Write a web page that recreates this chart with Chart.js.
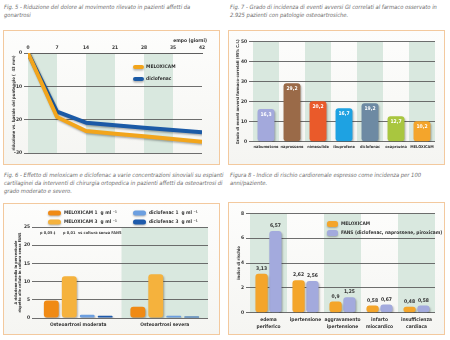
<!DOCTYPE html>
<html><head><meta charset="utf-8">
<script src="https://cdn.jsdelivr.net/npm/chart.js@4.4.0/dist/chart.umd.min.js"></script>
<style>
html,body{margin:0;padding:0;background:#fff;width:450px;height:340px;overflow:hidden;}
.cap{position:absolute;font-family:"Liberation Sans Narrow","DejaVu Sans Condensed",sans-serif;font-style:italic;font-size:5.8px;line-height:8px;color:#6e6e6e;white-space:nowrap;}
.frame{position:absolute;border:1px solid #f3c99e;background:linear-gradient(#fdfdfc,#f5f5f2);box-sizing:border-box;}
canvas{position:absolute;}
</style></head><body>
<div class="cap" style="left:4px;top:3px;">Fig. 5 - Riduzione del dolore al movimento rilevato in pazienti affetti da<br>gonartrosi</div>
<div class="cap" style="left:230px;top:3px;">Fig. 7 - Grado di incidenza di eventi avversi GI correlati al farmaco osservato in<br>2.925 pazienti con patologie osteoartrosiche.</div>
<div class="cap" style="left:4px;top:171px;">Fig. 6 - Effetto di meloxicam e diclofenac a varie concentrazioni sinoviali su espianti<br>cartilaginei da interventi di chirurgia ortopedica in pazienti affetti da osteoartrosi di<br>grado moderato e severo.</div>
<div class="cap" style="left:230px;top:171px;">Figura 8 - Indice di rischio cardiorenale espresso come incidenza per 100<br>anni/paziente.</div>

<div class="frame" style="left:3px;top:30px;width:217px;height:135px;"></div>
<div class="frame" style="left:228px;top:30px;width:217px;height:135px;"></div>
<div class="frame" style="left:3px;top:203px;width:217px;height:132px;"></div>
<div class="frame" style="left:228px;top:202px;width:217px;height:133px;"></div>

<canvas id="c1" width="217" height="135" style="left:3px;top:30px;"></canvas>
<canvas id="c2" width="217" height="135" style="left:228px;top:30px;"></canvas>
<canvas id="c3" width="217" height="132" style="left:3px;top:203px;"></canvas>
<canvas id="c4" width="217" height="133" style="left:228px;top:202px;"></canvas>

<script>
// ---------- Fig. 5 data ----------
const days = [0, 7, 14, 21, 28, 35, 42];
const meloxicamPain = [0, -19.2, -23.4, -24.2, -25.0, -25.8, -26.6];
const diclofenacPain = [0, -17.6, -20.9, -21.7, -22.4, -23.1, -23.8];
const painSeries = ['MELOXICAM', 'diclofenac'];
const painTicks = [0, -10, -20, -30];

// ---------- Fig. 7 data ----------
const drugs = ['nabumetone', 'naprossene', 'nimesulide', 'ibuprofene', 'diclofenac', 'oxaprozina', 'MELOXICAM'];
const giEvents = [16.3, 29.2, 20.2, 16.7, 19.2, 12.7, 10.2];

// ---------- Fig. 6 data ----------
const grades = ['Osteoartrosi moderata', 'Osteoartrosi severa'];
const cartSeries = ['MELOXICAM 1  g ml \u207B\u00B9', 'MELOXICAM 3  g ml \u207B\u00B9', 'diclofenac 1  g ml \u207B\u00B9', 'diclofenac 3  g ml \u207B\u00B9'];
const meloxicam1 = [4.8, 3.1];
const meloxicam3 = [11.5, 12.0];
const diclofenac1 = [0.9, 0.6];
const diclofenac3 = [0.6, 0.4];
const cartNotes = ['p 0,05 \u2021', 'p 0,01', 'vs coltura senza FANS'];

// ---------- Fig. 8 data ----------
const events = [['edema', 'periferico'], 'ipertensione', ['aggravamento', 'ipertensione'], ['infarto', 'miocardico'], ['insufficienza', 'cardiaca']];
const riskSeries = ['MELOXICAM', 'FANS (diclofenac, naprossene, piroxicam)'];
const meloxicamRisk = [3.13, 2.62, 0.9, 0.58, 0.48];
const fansRisk = [6.57, 2.56, 1.25, 0.67, 0.58];

// ---------- styles ----------
const FONT = "'Liberation Sans Narrow','DejaVu Sans Condensed',sans-serif";
const BAND = '#d9e8df';
const GRID = '#5e5e5e';
const drugColors = ['#a3a9dc', '#9a6a48', '#ea5a2a', '#1ea2e2', '#6d8aa3', '#a9c63f', '#f4a52b'];
const cartColors = ['#f08a14', '#f5b23d', '#6c9fe0', '#1e5aab'];
const riskColors = ['#f4a52a', '#a3aadd'];

Chart.defaults.font.family = FONT;
Chart.defaults.font.weight = 'bold';
Chart.defaults.font.size = 4.9;
Chart.defaults.color = '#333';
Chart.defaults.animation = false;
Chart.defaults.plugins.legend.display = false;
Chart.defaults.plugins.tooltip.enabled = false;

const fmt = v => String(v).replace('.', ',');
const noRot = { maxRotation: 0, minRotation: 0, autoSkip: false };

const shadowPlugin = {
  id: 'shadowP',
  beforeDatasetsDraw(c) { const x = c.ctx; x.save(); x.shadowColor = 'rgba(0,0,0,0.3)'; x.shadowBlur = 2; x.shadowOffsetX = 1; x.shadowOffsetY = 1.5; },
  afterDatasetsDraw(c) { c.ctx.restore(); }
};

function catBands(indices, yMin, yMax) {
  return { id: 'bands', beforeDraw(c) {
    const xs = c.scales.x, ys = c.scales.y, ctx = c.ctx;
    const w = (c.chartArea.right - c.chartArea.left) / xs.getLabels().length;
    ctx.save(); ctx.fillStyle = BAND;
    const t = ys.getPixelForValue(yMax), b = ys.getPixelForValue(yMin);
    indices.forEach(i => { const cx = xs.getPixelForValue(i); ctx.fillRect(cx - w / 2, t, w, b - t); });
    ctx.restore();
  }};
}

function roundRect(ctx, x, y, w, h, r) {
  ctx.beginPath(); ctx.moveTo(x + r, y); ctx.lineTo(x + w - r, y); ctx.arcTo(x + w, y, x + w, y + r, r);
  ctx.lineTo(x + w, y + h - r); ctx.arcTo(x + w, y + h, x + w - r, y + h, r); ctx.lineTo(x + r, y + h);
  ctx.arcTo(x, y + h, x, y + h - r, r); ctx.lineTo(x, y + r); ctx.arcTo(x, y, x + r, y, r); ctx.closePath();
}

// ================= Fig. 5 =================
new Chart(document.getElementById('c1'), {
  type: 'line',
  data: { datasets: [
    { label: painSeries[0], data: days.map((d, i) => ({ x: d, y: meloxicamPain[i] })), borderColor: '#f2a51c', borderWidth: 4, pointRadius: 0, tension: 0, borderJoinStyle: 'round' },
    { label: painSeries[1], data: days.map((d, i) => ({ x: d, y: diclofenacPain[i] })), borderColor: '#1b5aa6', borderWidth: 4, pointRadius: 0, tension: 0, borderJoinStyle: 'round' }
  ]},
  options: {
    responsive: false, devicePixelRatio: 1,
    layout: { padding: { left: 0, top: 0, right: 18, bottom: 12 } },
    scales: {
      x: { type: 'linear', position: 'top', min: 0, max: 42, afterFit(s) { s.height = 23; },
        ticks: { stepSize: 7, padding: 2, ...noRot }, grid: { display: false, drawTicks: false },
        border: { display: true, color: GRID, width: 1 } },
      y: { min: -30, max: 0, afterFit(s) { s.width = 25; },
        afterBuildTicks(s) { s.ticks = painTicks.map(v => ({ value: v })); },
        ticks: { padding: 2 }, grid: { color: GRID, lineWidth: 0.9, tickLength: 4 }, border: { display: false },
        title: { display: true, text: 'riduzione vs. basale del punteggio (  43 mm)', font: { size: 4.2, lineHeight: 1.2 }, padding: { top: 8, bottom: 0 } } }
    }
  },
  plugins: [
    { id: 'bands5', beforeDraw(c) {
      const xs = c.scales.x, ys = c.scales.y, ctx = c.ctx; ctx.save(); ctx.fillStyle = BAND;
      const t = ys.getPixelForValue(0), b = ys.getPixelForValue(-30);
      [[0, 7], [14, 21], [28, 35]].forEach(([a, e]) => { const l = xs.getPixelForValue(a), r = xs.getPixelForValue(e); ctx.fillRect(l, t, r - l, b - t); });
      ctx.restore();
    }},
    shadowPlugin,
    { id: 'leg5', afterDraw(c) {
      const ctx = c.ctx; ctx.save();
      c.data.datasets.forEach((ds, i) => {
        const y = 37 + i * 12;
        ctx.save(); ctx.shadowColor = 'rgba(0,0,0,0.3)'; ctx.shadowBlur = 2; ctx.shadowOffsetY = 1.5;
        ctx.strokeStyle = ds.borderColor; ctx.lineWidth = 4; ctx.lineCap = 'round';
        ctx.beginPath(); ctx.moveTo(132, y); ctx.lineTo(139, y); ctx.stroke(); ctx.restore();
        ctx.fillStyle = '#333'; ctx.font = 'bold 4.9px ' + FONT; ctx.textBaseline = 'middle'; ctx.textAlign = 'left';
        ctx.fillText(ds.label, 143, y);
      });
      ctx.textAlign = 'right'; ctx.fillText('empo (giorni)', 204, 11);
      ctx.restore();
    }}
  ]
});

// ================= Fig. 7 =================
new Chart(document.getElementById('c2'), {
  type: 'bar',
  data: { labels: drugs, datasets: [{ data: giEvents, backgroundColor: drugColors, barPercentage: 0.65, categoryPercentage: 1, borderRadius: 3, borderSkipped: false }] },
  options: {
    responsive: false, devicePixelRatio: 1,
    layout: { padding: { left: 0, top: 11.7, right: 10, bottom: 9.3 } },
    scales: {
      x: { afterFit(s) { s.height = 14; }, ticks: { padding: 3, font: { size: 3.9 }, ...noRot }, grid: { display: false, drawTicks: false }, border: { display: false } },
      y: { min: 0, max: 50, afterFit(s) { s.width = 25; }, ticks: { stepSize: 10, padding: 2 },
        grid: { color: GRID, lineWidth: 0.9, tickLength: 4 }, border: { display: false },
        title: { display: true, text: 'Grado di eventi avversi farmaco-correlati (95% C.I.)', font: { size: 4.0, lineHeight: 1.2 }, padding: { top: 8, bottom: 0 } } }
    }
  },
  plugins: [catBands([0, 2, 4, 6], 0, 50), shadowPlugin,
    { id: 'vals7', afterDatasetsDraw(c) {
      const ctx = c.ctx; ctx.save(); ctx.fillStyle = '#fff'; ctx.font = 'bold 5px ' + FONT; ctx.textAlign = 'center'; ctx.textBaseline = 'middle';
      c.getDatasetMeta(0).data.forEach((b, i) => ctx.fillText(fmt(giEvents[i]), b.x, b.y + 5.5));
      ctx.restore();
    }}
  ]
});

// ================= Fig. 6 =================
const cartData = [meloxicam1, meloxicam3, diclofenac1, diclofenac3];
new Chart(document.getElementById('c3'), {
  type: 'bar',
  data: { labels: grades, datasets: cartData.map((d, i) => ({ label: cartSeries[i], data: d, backgroundColor: cartColors[i], barPercentage: 0.83, categoryPercentage: 0.83, borderRadius: 3, borderSkipped: false })) },
  options: {
    responsive: false, devicePixelRatio: 1,
    layout: { padding: { left: 0, top: 24, right: 12, bottom: 3 } },
    scales: {
      x: { afterFit(s) { s.height = 14; }, ticks: { padding: 4, ...noRot }, grid: { display: false, drawTicks: false }, border: { display: false } },
      y: { min: 0, max: 25, afterFit(s) { s.width = 32; }, ticks: { stepSize: 5, padding: 2 },
        grid: { color: GRID, lineWidth: 0.9, tickLength: 3 }, border: { display: false },
        title: { display: true, text: ['\u0394 riduzione media in percentuale', 'rispetto alle cellule in coltura senza FANS'], font: { size: 3.8, lineHeight: 1.05 }, padding: { top: 11.5, bottom: 0 } } }
    }
  },
  plugins: [catBands([1], 0, 25), shadowPlugin,
    { id: 'leg6', afterDraw(c) {
      const ctx = c.ctx; ctx.save(); ctx.font = 'bold 4.8px ' + FONT; ctx.textBaseline = 'middle';
      c.data.datasets.forEach((ds, i) => {
        const x = i < 2 ? 45 : 130, y = i % 2 === 0 ? 10 : 19;
        ctx.save(); ctx.shadowColor = 'rgba(0,0,0,0.3)'; ctx.shadowBlur = 2; ctx.shadowOffsetY = 1;
        ctx.fillStyle = ds.backgroundColor; roundRect(ctx, x, y - 2.5, 13, 5, 2.5); ctx.fill(); ctx.restore();
        ctx.fillStyle = '#333'; ctx.fillText(ds.label, x + 16, y);
      });
      ctx.font = 'bold 3.9px ' + FONT; ctx.fillStyle = '#444';
      const nx = [37, 60, 75];
      cartNotes.forEach((t, i) => ctx.fillText(t, nx[i], 30));
      ctx.restore();
    }}
  ]
});

// ================= Fig. 8 =================
const riskData = [meloxicamRisk, fansRisk];
new Chart(document.getElementById('c4'), {
  type: 'bar',
  data: { labels: events, datasets: riskData.map((d, i) => ({ label: riskSeries[i], data: d, backgroundColor: riskColors[i], barPercentage: 0.88, categoryPercentage: 0.75, borderRadius: 3, borderSkipped: false })) },
  options: {
    responsive: false, devicePixelRatio: 1,
    layout: { padding: { left: 0, top: 11.3, right: 10, bottom: 4.3 } },
    scales: {
      x: { afterFit(s) { s.height = 18; }, ticks: { padding: 3, font: { lineHeight: 1.5 }, ...noRot }, grid: { display: false, drawTicks: false }, border: { display: false } },
      y: { min: 0, max: 8, afterFit(s) { s.width = 22; }, ticks: { stepSize: 2, padding: 2 },
        grid: { color: GRID, lineWidth: 0.9, tickLength: 4 }, border: { display: false },
        title: { display: true, text: 'indice di rischio', font: { size: 4.2, lineHeight: 1.2 }, padding: { top: 8, bottom: 0 } } }
    }
  },
  plugins: [catBands([0, 2, 4], 0, 8), shadowPlugin,
    { id: 'vals8', afterDatasetsDraw(c) {
      const ctx = c.ctx; ctx.save(); ctx.fillStyle = '#333'; ctx.font = 'bold 5px ' + FONT; ctx.textAlign = 'center'; ctx.textBaseline = 'bottom';
      riskData.forEach((d, k) => c.getDatasetMeta(k).data.forEach((b, i) => ctx.fillText(fmt(d[i]), b.x, b.y - 2.5)));
      ctx.restore();
    }},
    { id: 'leg8', afterDraw(c) {
      const ctx = c.ctx; ctx.save(); ctx.font = 'bold 4.8px ' + FONT; ctx.textBaseline = 'middle';
      c.data.datasets.forEach((ds, i) => {
        const y = 22 + i * 9;
        ctx.save(); ctx.shadowColor = 'rgba(0,0,0,0.3)'; ctx.shadowBlur = 2; ctx.shadowOffsetY = 1;
        ctx.fillStyle = ds.backgroundColor; roundRect(ctx, 99, y - 3, 11, 6, 2.5); ctx.fill(); ctx.restore();
        ctx.fillStyle = '#333'; ctx.fillText(ds.label, 113, y);
      });
      ctx.restore();
    }}
  ]
});
</script>
</body></html>
